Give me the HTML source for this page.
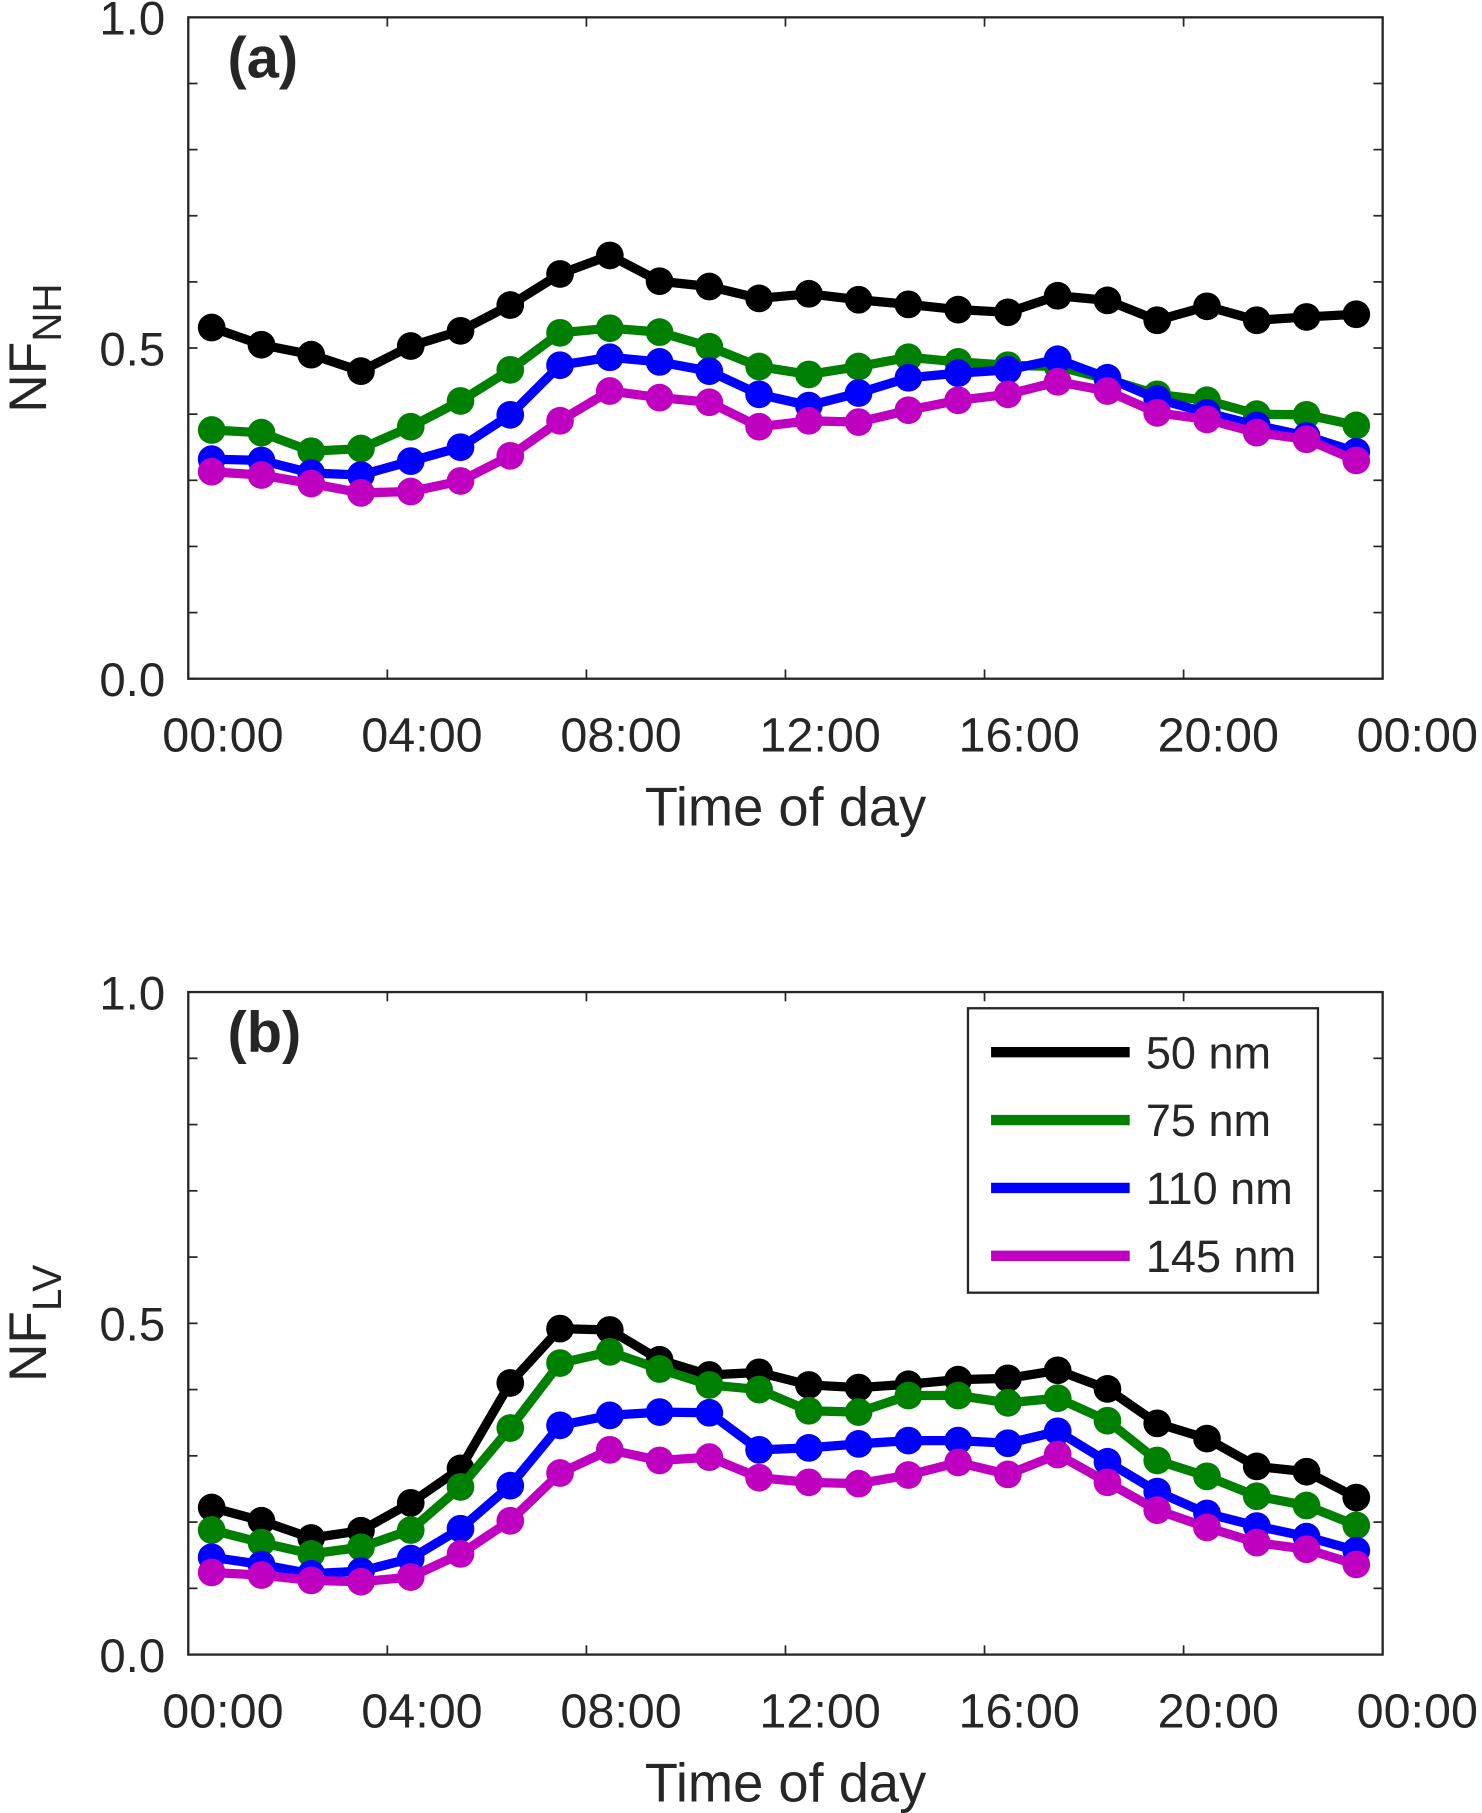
<!DOCTYPE html>
<html><head><meta charset="utf-8"><style>
html,body{margin:0;padding:0;background:#fff}
svg{display:block}
text{font-family:"Liberation Sans",sans-serif;fill:#262626}
</style></head><body>
<svg id="chart" width="1482" height="1813" viewBox="0 0 1283 1568" preserveAspectRatio="none" xmlns="http://www.w3.org/2000/svg"></svg>
<script>
const hours = [0,1,2,3,4,5,6,7,8,9,10,11,12,13,14,15,16,17,18,19,20,21,22,23];
const seriesNames = ["50 nm","75 nm","110 nm","145 nm"];
const seriesColors = ["#000000","#008000","#0000ff","#c000c0"];
const aBlack = [0.531,0.505,0.490,0.465,0.503,0.526,0.565,0.612,0.640,0.601,0.593,0.575,0.582,0.573,0.566,0.558,0.554,0.579,0.572,0.542,0.563,0.542,0.547,0.551];
const aGreen = [0.376,0.372,0.344,0.348,0.381,0.420,0.467,0.523,0.530,0.524,0.502,0.472,0.460,0.472,0.486,0.479,0.474,0.472,0.453,0.430,0.421,0.400,0.399,0.383];
const aBlue = [0.332,0.330,0.311,0.308,0.329,0.350,0.399,0.474,0.486,0.479,0.465,0.430,0.413,0.432,0.455,0.462,0.467,0.483,0.455,0.423,0.402,0.383,0.367,0.343];
const aMagenta = [0.313,0.308,0.295,0.281,0.283,0.299,0.337,0.390,0.435,0.425,0.418,0.381,0.390,0.388,0.406,0.421,0.430,0.449,0.435,0.402,0.392,0.372,0.362,0.330];
const bBlack = [0.222,0.202,0.176,0.187,0.229,0.281,0.410,0.492,0.490,0.445,0.422,0.426,0.407,0.403,0.408,0.415,0.417,0.429,0.401,0.349,0.326,0.284,0.276,0.237];
const bGreen = [0.188,0.169,0.152,0.162,0.188,0.253,0.342,0.440,0.457,0.431,0.407,0.400,0.368,0.366,0.391,0.391,0.380,0.387,0.353,0.293,0.269,0.239,0.225,0.195];
const bBlue = [0.147,0.136,0.122,0.126,0.145,0.190,0.255,0.346,0.361,0.366,0.365,0.309,0.312,0.318,0.323,0.323,0.319,0.337,0.291,0.246,0.213,0.194,0.178,0.157];
const bMagenta = [0.124,0.120,0.112,0.110,0.117,0.152,0.202,0.274,0.309,0.293,0.298,0.267,0.260,0.258,0.271,0.290,0.272,0.302,0.260,0.218,0.192,0.169,0.159,0.136];
const xTickLabels = ["00:00","04:00","08:00","12:00","16:00","20:00","00:00"];
const yTickLabels = ["0.0","0.5","1.0"];

const svg = document.getElementById('chart');
const NS = "http://www.w3.org/2000/svg";
function mk(tag, attrs, parent){const e=document.createElementNS(NS,tag);for(const k in attrs)e.setAttribute(k,attrs[k]);(parent||svg).appendChild(e);return e;}
const L=163,R=1197;
function xs(h){return L+(h+0.47)*(R-L)/24;}

function panel(id, top, bottom, data, letter, sub, legend){
  const ys=v=>bottom-v*(bottom-top);
  const g=mk('g',{});
  
  
  for(let i=0;i<=10;i++){const y=ys(i/10);
    const t1=mk('line',{x1:L,x2:L+8,y1:y,y2:y,stroke:'#262626','stroke-width':1.5},g);
    
    
    mk('line',{x1:R,x2:R-8,y1:y,y2:y,stroke:'#262626','stroke-width':1.5},g);}
  for(let i=0;i<=6;i++){const x=L+i*(R-L)/6;
    mk('line',{x1:x,x2:x,y1:bottom,y2:bottom-8,stroke:'#262626','stroke-width':1.5},g);
    mk('line',{x1:x,x2:x,y1:top,y2:top+8,stroke:'#262626','stroke-width':1.5},g);
    const t=mk('text',{x:x+30,y:bottom+63,'font-size':42,'text-anchor':'middle'},g);
    t.textContent=xTickLabels[i];
    
    }
  yTickLabels.forEach((lab,i)=>{const t=mk('text',{x:L-20,y:ys(i*0.5)+15,'font-size':41,'text-anchor':'end'},g);
    t.textContent=lab;
    
    });
  data.forEach((vals,si)=>{
    const sg=mk('g',{},g);
    
    
    mk('polyline',{points:vals.map((v,i)=>xs(hours[i])+','+ys(v)).join(' '),fill:'none',stroke:seriesColors[si],'stroke-width':8,'stroke-linejoin':'round'},sg);
    vals.forEach((v,i)=>{const c=mk('circle',{cx:xs(hours[i]),cy:ys(v),r:12,fill:seriesColors[si]},sg);
      
      });
  });
  const box=mk('rect',{x:L,y:top,width:R-L,height:bottom-top,fill:'none',stroke:'#262626','stroke-width':2},g);
  
  
  const pl=mk('text',{x:197,y:top+52,'font-size':50,'font-weight':'bold',fill:'#000'},g);
  pl.textContent=letter;
  
  
  const xl=mk('text',{x:680,y:bottom+127,'font-size':47,'text-anchor':'middle'},g);
  xl.textContent='Time of day';
  
  
  const cy=(top+bottom)/2;
  const yl=mk('text',{x:0,y:0,'font-size':46,'text-anchor':'middle',transform:`translate(40,${cy}) rotate(-90)`},g);
  
  
  const t1=document.createElementNS(NS,'tspan');t1.textContent='NF';yl.appendChild(t1);
  const t2=document.createElementNS(NS,'tspan');t2.setAttribute('font-size',35);t2.setAttribute('dy',13);t2.textContent=sub;yl.appendChild(t2);
  if(legend){
    const lg=mk('g',{},g);
    
    
    mk('rect',{x:838,y:872,width:303,height:246,fill:'#fff',stroke:'#262626','stroke-width':2},lg);
    seriesNames.forEach((n,i)=>{const y=910+i*58.7;
      const e=mk('g',{},lg);
      
      
      mk('line',{x1:858,x2:978,y1:y,y2:y,stroke:seriesColors[i],'stroke-width':9},e);
      const t=mk('text',{x:992,y:y+14,'font-size':39},e);t.textContent=n;});
  }
}
panel('a',15,587,[aBlack,aGreen,aBlue,aMagenta],'(a)','NH',false);
panel('b',858,1431,[bBlack,bGreen,bBlue,bMagenta],'(b)','LV',true);
</script>
</body></html>
